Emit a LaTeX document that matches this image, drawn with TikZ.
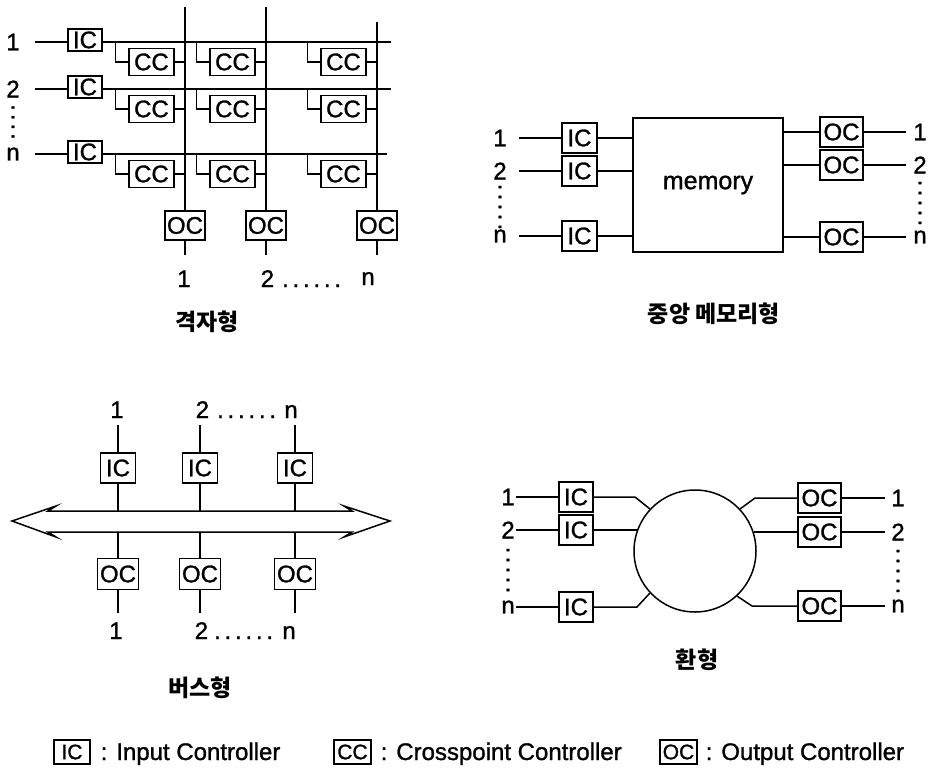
\documentclass[tikz,border=0pt]{standalone}
\usepackage{fontspec}
\setmainfont[FakeBold=1.2]{Liberation Sans}
\newfontfamily\kr{Noto Sans CJK KR}
\newcommand\mydots{.\hspace{3.8pt}.\hspace{3.8pt}.\hspace{3.8pt}.\hspace{3.8pt}.\hspace{3.8pt}.}
\newcommand\fourdots{.\hspace{3pt}.\hspace{3pt}.\hspace{3pt}.}
\newcommand\fivedots{.\hspace{3.3pt}.\hspace{3.3pt}.\hspace{3.3pt}.\hspace{3.3pt}.}
\begin{document}
\begin{tikzpicture}[x=1pt,y=-1pt,line width=1.5pt,
 box/.style={draw,fill=white,inner sep=0pt,font=\fontsize{24}{24}\selectfont},
 lbl/.style={inner sep=0pt,font=\fontsize{24}{24}\selectfont},
 vdot/.style={inner sep=0pt,rotate=-90,font=\fontsize{24}{24}\selectfont},
 vdotr/.style={inner sep=0pt,rotate=90,font=\fontsize{24}{24}\selectfont},
 captxt/.style={inner sep=0pt,font=\kr\bfseries\fontsize{23}{26}\selectfont},
 legbox/.style={box,minimum width=36pt,minimum height=24pt,font=\fontsize{21}{21}\selectfont},
 legtxt/.style={inner sep=0pt,anchor=base west,font=\fontsize{24}{24}\selectfont}]
\useasboundingbox (0,0) rectangle (929,768);

% ---------------- crossbar ----------------
\foreach \c/\x/\t in {1/185/7,2/266/7,3/377/22} {
  \coordinate (xc\c) at (\x,\t);
  \node[box,minimum width=40pt,minimum height=29pt] (xo\c) at (\x,225.5) {OC};
  \coordinate (xb\c) at (\x,255);
  \draw (xc\c) -- (xo\c.north);
  \draw (xo\c.south) -- (xb\c);
}
\foreach \r/\y/\t/\e in {1/42/1/391,2/89/2/391,3/154/n/387} {
  \node[lbl] (xl\r) at (13,\y) {\t};
  \node[box,minimum width=34pt,minimum height=22pt] (xi\r) at (85,\y-2) {IC};
  \coordinate (xs\r) at (35,\y);
  \coordinate (xr\r) at (\e,\y);
  \draw (xs\r) -- (xs\r -| xi\r.west);
  \draw (xr\r -| xi\r.east) -- (xr\r);
  \foreach \c/\x in {1/185,2/266,3/377} {
    \node[box,minimum width=45pt,minimum height=27pt] (cc\r\c) at (\x-33.5,\y+20) {CC};
    \draw ([xshift=-13pt]cc\r\c.west |- xr\r) |- (cc\r\c.west);
    \draw (cc\r\c.east) -- (cc\r\c.east -| xc\c);
  }
}
\node[vdot] (xd) at (13,122) {\fourdots};
\node[lbl,anchor=base] (xn1) at (184,287) {1};
\node[lbl,anchor=base west] (xn2) at (260,287) {2\hspace{8pt}\mydots};
\node[lbl,anchor=base] (xn3) at (368,285) {n};
\node[captxt] (xcap) at (207,322) {격자형};

% ---------------- central memory ----------------
\node[box,minimum width=150pt,minimum height=134pt,font=\fontsize{25}{25}\selectfont] (mem) at (708,185) {memory};
\foreach \r/\t/\y in {1/1/138,2/2/171,3/n/236} {
  \node[lbl] (ml\r) at (500,\y) {\t};
  \coordinate (ms\r) at (519,\y);
  \node[box,minimum width=35pt,minimum height=30pt] (mi\r) at (579.5,\y) {IC};
  \draw (ms\r) -- (mi\r.west);
  \draw (mi\r.east) -- (mi\r.east -| mem.west);
}
\foreach \r/\t/\y in {1/1/132,2/2/165,3/n/237} {
  \node[box,minimum width=43pt,minimum height=30pt] (mo\r) at (841.5,\y) {OC};
  \coordinate (me\r) at (906,\y);
  \node[lbl] (mr\r) at (920,\y) {\t};
  \draw (mo\r.west -| mem.east) -- (mo\r.west);
  \draw (mo\r.east) -- (me\r);
}
\node[vdot] (mdl) at (500,207) {\fivedots};
\node[vdotr] (mdr) at (920,203) {\fivedots};
\node[captxt] (mcap) at (714,314) {중앙 메모리형};

% ---------------- bus ----------------
\draw[fill=white] (12,521) -- (56,506) -- (48,511) -- (352,511) -- (344,506) -- (390,521)
  -- (344,537) -- (352,532) -- (48,532) -- (56,537) -- cycle;
\coordinate (busT) at (200,511);
\coordinate (busB) at (200,532);
\foreach \c/\x in {1/118,2/200,3/295} {
  \coordinate (bt\c) at (\x,425);
  \node[box,minimum width=35pt,minimum height=30pt] (bi\c) at (\x,468) {IC};
  \node[box,minimum width=41pt,minimum height=31pt] (bo\c) at (\x,574) {OC};
  \coordinate (bb\c) at (\x,613);
  \draw (bt\c) -- (bi\c.north);
  \draw (bi\c.south) -- (bi\c.south |- busT);
  \draw (bo\c.north |- busB) -- (bo\c.north);
  \draw (bo\c.south) -- (bb\c);
}
\node[lbl,anchor=base] (bn1) at (117,418) {1};
\node[lbl,anchor=base west] (bn2) at (195,418) {2\hspace{8pt}\mydots};
\node[lbl,anchor=base] (bn3) at (291,418) {n};
\node[lbl,anchor=base] (bm1) at (116,639) {1};
\node[lbl,anchor=base west] (bm2) at (194,639) {2\hspace{6pt}\mydots};
\node[lbl,anchor=base] (bm3) at (289,639) {n};
\node[captxt] (bcap) at (200,688) {버스형};

% ---------------- ring ----------------
\node[draw,circle,minimum size=122pt,inner sep=0pt] (ring) at (695,551) {};
\foreach \r/\t/\y in {1/1/497,2/2/530,3/n/607} {
  \node[lbl] (rl\r) at (508,\y) {\t};
  \coordinate (rs\r) at (516,\y);
  \node[box,minimum width=34pt,minimum height=30pt] (ri\r) at (576,\y) {IC};
  \draw (rs\r) -- (ri\r.west);
}
\coordinate (re1) at (635,497);
\coordinate (re3) at (637,607);
\draw (ri1.east) -- (re1) -- (ring.137);
\draw (ri2.east) -- (ri2.east -| ring.160);
\draw (ri3.east) -- (re3) -- (ring.223);
\foreach \r/\t/\y in {1/1/498,2/2/532,3/n/606} {
  \node[box,minimum width=43pt,minimum height=30pt] (ro\r) at (819.5,\y) {OC};
  \coordinate (rx\r) at (885,\y);
  \node[lbl] (rr\r) at (898,\y) {\t};
  \draw (ro\r.east) -- (rx\r);
}
\coordinate (rf1) at (755,498);
\coordinate (rf3) at (752,606);
\draw (ring.43) -- (rf1) -- (ro1.west);
\draw (ro2.west -| ring.17) -- (ro2.west);
\draw (ring.-47) -- (rf3) -- (ro3.west);
\node[vdot] (rdl) at (508,570) {\fivedots};
\node[vdotr] (rdr) at (898,571) {\fivedots};
\node[captxt] (rcap) at (697,660) {환형};

% ---------------- legend ----------------
\node[legbox] (kic) at (72,752) {IC};
\node[legtxt] (kict) at (100,760) {: Input Controller};
\node[legbox,minimum width=37pt] (kcc) at (352.5,752) {CC};
\node[legtxt] (kcct) at (380,760) {: Crosspoint Controller};
\node[legbox,minimum width=37pt] (koc) at (678.5,752) {OC};
\node[legtxt] (koct) at (705,760) {: Output Controller};
\end{tikzpicture}
\end{document}
